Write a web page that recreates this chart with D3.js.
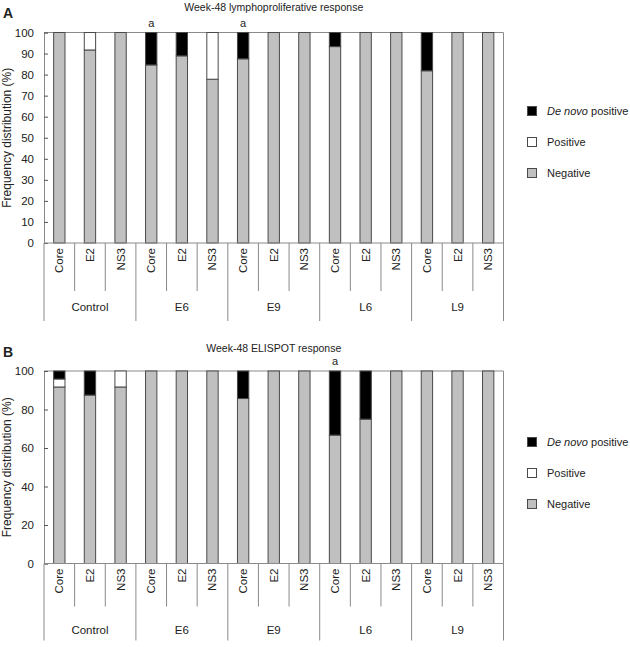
<!DOCTYPE html>
<html>
<head>
<meta charset="utf-8">
<script src="https://cdn.jsdelivr.net/npm/d3@7"></script>
<style>
  html, body { margin: 0; padding: 0; background: #fff; }
  svg { display: block; }
  text { font-family: "Liberation Sans", Arial, sans-serif; fill: #222; }
</style>
</head>
<body>
<div id="chart"></div>
<script>
// ---------- data ----------
const groups = ["Control", "E6", "E9", "L6", "L9"];
const antigens = ["Core", "E2", "NS3"];
const seriesKeys = ["negative", "positive", "deNovo"];
const legendLabels = ["De novo positive", "Positive", "Negative"];

// Panel A: week-48 lymphoproliferative response (%)
const lprNegative = [100, 91.7, 100, 84.6, 88.9, 77.8, 87.5, 100, 100, 93.3, 100, 100, 81.8, 100, 100];
const lprPositive = [0, 8.3, 0, 0, 0, 22.2, 0, 0, 0, 0, 0, 0, 0, 0, 0];
const lprDeNovo   = [0, 0, 0, 15.4, 11.1, 0, 12.5, 0, 0, 6.7, 0, 0, 18.2, 0, 0];
const lprTicks = [0, 10, 20, 30, 40, 50, 60, 70, 80, 90, 100];
const lprSignificant = [3, 6];

// Panel B: week-48 ELISPOT response (%)
const elsNegative = [91.7, 87.5, 91.7, 100, 100, 100, 85.7, 100, 100, 66.7, 75, 100, 100, 100, 100];
const elsPositive = [4.15, 0, 8.3, 0, 0, 0, 0, 0, 0, 0, 0, 0, 0, 0, 0];
const elsDeNovo   = [4.15, 12.5, 0, 0, 0, 0, 14.3, 0, 0, 33.3, 25, 0, 0, 0, 0];
const elsTicks = [0, 20, 40, 60, 80, 100];
const elsSignificant = [9];

// ---------- drawing ----------
const W = 630, H = 647;
const svg = d3.select("#chart").append("svg").attr("width", W).attr("height", H);

const colors = { negative: "#c0c0c0", positive: "#ffffff", deNovo: "#000000" };
const frameColor = "#8a8a8a";

function buildRows(neg, pos, dn) {
  const rows = [];
  groups.forEach((g, gi) => antigens.forEach((a, ai) => {
    const i = gi * antigens.length + ai;
    rows.push({ id: i, group: g, antigen: a, negative: neg[i], positive: pos[i], deNovo: dn[i] });
  }));
  return rows;
}

function panel(opts) {
  const { letter, title, rows, ticks, sig, top, bottom, innerLen, groupLen, groupLabelY, letterY, titleY, sigY, legendY } = opts;
  const left = 44, right = 503.5;
  const g = svg.append("g");

  const x = d3.scaleBand().domain(rows.map(d => d.id)).range([left, right])
    .paddingInner(0.63).paddingOuter(0.315);
  const y = d3.scaleLinear().domain([0, 100]).range([bottom, top]);
  const step = x.step();

  // frame (top + right)
  g.append("line").attr("x1", left).attr("x2", right).attr("y1", top).attr("y2", top)
    .attr("stroke", frameColor).attr("stroke-width", 1);
  g.append("line").attr("x1", right).attr("x2", right).attr("y1", top).attr("y2", bottom)
    .attr("stroke", frameColor).attr("stroke-width", 1);

  // stacked bars
  const stack = d3.stack().keys(seriesKeys)(rows);
  stack.forEach(layer => {
    g.append("g").selectAll("rect").data(layer.filter(d => d[1] - d[0] > 0)).join("rect")
      .attr("x", d => x(d.data.id))
      .attr("width", x.bandwidth())
      .attr("y", d => y(d[1]))
      .attr("height", d => y(d[0]) - y(d[1]))
      .attr("fill", colors[layer.key])
      .attr("stroke", "#4a4a4a")
      .attr("stroke-width", 1);
  });

  // y axis (ticks inward)
  const yAxis = d3.axisLeft(y).tickValues(ticks).tickSize(-4).tickPadding(10);
  const ya = g.append("g").attr("transform", `translate(${left},0)`).call(yAxis);
  ya.select(".domain").attr("stroke", frameColor);
  ya.selectAll(".tick line").attr("stroke", "#555");
  ya.selectAll(".tick text").attr("font-size", 11.5).attr("fill", "#222")
    .attr("font-family", "Liberation Sans, Arial, sans-serif");

  // x axis baseline
  g.append("line").attr("x1", left).attr("x2", right).attr("y1", bottom).attr("y2", bottom)
    .attr("stroke", frameColor);

  // category separators
  const nb = rows.length;
  for (let k = 0; k <= nb; k++) {
    const xx = left + k * step;
    const isGroup = k % antigens.length === 0;
    g.append("line").attr("x1", xx).attr("x2", xx).attr("y1", bottom)
      .attr("y2", bottom + (isGroup ? groupLen : innerLen))
      .attr("stroke", frameColor).attr("stroke-width", 1);
  }

  // antigen labels (rotated)
  g.append("g").selectAll("text").data(rows).join("text")
    .attr("transform", d => `translate(${x(d.id) + x.bandwidth() / 2 + 4},${bottom + 5}) rotate(-90)`)
    .attr("text-anchor", "end")
    .attr("font-size", 11.5)
    .text(d => d.antigen);

  // group labels
  g.append("g").selectAll("text").data(groups).join("text")
    .attr("x", (d, i) => left + (i * antigens.length + antigens.length / 2) * step)
    .attr("y", groupLabelY)
    .attr("text-anchor", "middle")
    .attr("font-size", 11.5)
    .text(d => d);

  // y label
  g.append("text")
    .attr("transform", `translate(11,${(top + bottom) / 2}) rotate(-90)`)
    .attr("text-anchor", "middle").attr("font-size", 12)
    .text("Frequency distribution (%)");

  // title
  g.append("text").attr("x", (left + right) / 2).attr("y", titleY)
    .attr("text-anchor", "middle").attr("font-size", 10.5).text(title);

  // panel letter
  g.append("text").attr("x", 3).attr("y", letterY)
    .attr("font-size", 14).attr("font-weight", "bold").attr("fill", "#000").text(letter);

  // significance marks
  g.append("g").selectAll("text").data(sig).join("text")
    .attr("x", d => x(d) + x.bandwidth() / 2)
    .attr("y", sigY).attr("text-anchor", "middle").attr("font-size", 11)
    .text("a");

  // legend
  const lg = g.append("g").attr("transform", `translate(527,${legendY})`);
  const legendKeys = ["deNovo", "positive", "negative"];
  legendKeys.forEach((k, i) => {
    const row = lg.append("g").attr("transform", `translate(0,${i * 31})`);
    row.append("rect").attr("x", 0.5).attr("y", 0.5).attr("width", 9).attr("height", 9)
      .attr("fill", colors[k]).attr("stroke", "#4a4a4a");
    const t = row.append("text").attr("x", 20).attr("y", 5).attr("dy", "0.35em")
      .attr("font-size", 11);
    if (k === "deNovo") {
      t.append("tspan").attr("font-style", "italic").text("De novo");
      t.append("tspan").text(" positive");
    } else {
      t.text(legendLabels[i]);
    }
  });
}

panel({
  letter: "A", title: "Week-48 lymphoproliferative response",
  rows: buildRows(lprNegative, lprPositive, lprDeNovo),
  ticks: lprTicks, sig: lprSignificant,
  top: 32.5, bottom: 243, innerLen: 48, groupLen: 78, groupLabelY: 311,
  letterY: 18, titleY: 11, sigY: 27, legendY: 106
});

panel({
  letter: "B", title: "Week-48 ELISPOT response",
  rows: buildRows(elsNegative, elsPositive, elsDeNovo),
  ticks: elsTicks, sig: elsSignificant,
  top: 371, bottom: 563.5, innerLen: 43, groupLen: 77, groupLabelY: 634,
  letterY: 357, titleY: 352, sigY: 365, legendY: 437
});
</script>
</body>
</html>
